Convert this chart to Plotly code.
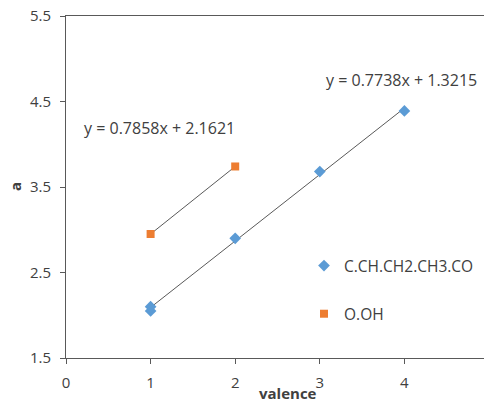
import numpy as np
import plotly.graph_objects as go

# data
blue_name = "C.CH.CH2.CH3.CO"
blue_x = [1, 1, 2, 3, 4]
blue_y = [2.05, 2.10, 2.90, 3.68, 4.39]
orange_name = "O.OH"
orange_x = [1, 2]
orange_y = [2.95, 3.74]
eq_blue = "y = 0.7738x + 1.3215"
eq_orange = "y = 0.7858x + 2.1621"
x_ticks = [0, 1, 2, 3, 4, 5]
y_ticks = [1.5, 2.5, 3.5, 4.5, 5.5]

FONT = "Open Sans, Liberation Sans, sans-serif"
TXT = "#404040"

# page has an 8px body margin: figure size and margins compensate for it
OFF = 8
W, H = 492 - OFF, 402 - OFF
L, R, T, B = 66 - OFF, 3, 16 - OFF, 44
pw, ph = W - L - R, H - T - B

def page_to_paper(px, py):
    return (px - OFF - L) / pw, (H - B - (py - OFF)) / ph

fig = go.Figure()

def trend(xs, ys):
    m, b = np.polyfit(xs, ys, 1)
    xx = np.array([min(xs), max(xs)], dtype=float)
    return xx, m * xx + b

for xs, ys in [(blue_x, blue_y), (orange_x, orange_y)]:
    tx, ty = trend(xs, ys)
    fig.add_trace(go.Scatter(x=tx, y=ty, mode="lines", line=dict(color="#595959", width=1),
                             showlegend=False, hoverinfo="skip"))

fig.add_trace(go.Scatter(x=blue_x, y=blue_y, mode="markers", name=blue_name, legendgroup="b",
                         marker=dict(symbol="diamond", color="#5B9BD5", size=9)))
fig.add_trace(go.Scatter(x=orange_x, y=orange_y, mode="markers", name=orange_name, legendgroup="o",
                         marker=dict(symbol="square", color="#ED7D31", size=8)))

fig.add_annotation(x=1.10, y=4.19, xref="x", yref="y", text=eq_orange, showarrow=False,
                   xanchor="center", yanchor="middle",
                   font=dict(family=FONT, size=16, color=TXT))
fig.add_annotation(x=3.96, y=4.755, xref="x", yref="y", text=eq_blue, showarrow=False,
                   xanchor="center", yanchor="middle",
                   font=dict(family=FONT, size=16, color=TXT))
# axis titles
vx, vy = page_to_paper(288, 393)
fig.add_annotation(x=vx, y=vy, xref="paper", yref="paper", text="<b>valence</b>", showarrow=False,
                   xanchor="center", yanchor="middle", font=dict(family=FONT, size=15, color=TXT))
ax_, ay_ = page_to_paper(15, 187)
fig.add_annotation(x=ax_, y=ay_, xref="paper", yref="paper", text="<b>a</b>", showarrow=False,
                   textangle=-90, xanchor="center", yanchor="middle",
                   font=dict(family=FONT, size=15, color=TXT))

lx, ly = page_to_paper(304, 249)

fig.update_layout(
    width=W, height=H,
    margin=dict(l=L, r=R, t=T, b=B, autoexpand=False),
    paper_bgcolor="white", plot_bgcolor="white",
    font=dict(family=FONT, size=15, color=TXT),
    legend=dict(x=lx, y=ly, xanchor="left", yanchor="top",
                bgcolor="rgba(0,0,0,0)", font=dict(size=15.5, color=TXT),
                itemsizing="trace", tracegroupgap=25),
    xaxis=dict(range=[0, 5], tickvals=x_ticks, showgrid=False, zeroline=False, automargin=False,
               showline=True, linecolor="#595959", linewidth=1, mirror=True,
               ticks="outside", ticklen=5, tickcolor="#595959", ticklabelstandoff=6,
               ticklabeloverflow="allow"),
    yaxis=dict(range=[1.5, 5.5], tickvals=y_ticks, ticktext=[str(v) for v in y_ticks],
               showgrid=False, zeroline=False, automargin=False,
               showline=True, linecolor="#595959", linewidth=1, mirror=True,
               ticks="outside", ticklen=5, tickcolor="#595959", ticklabelstandoff=6,
               ticklabeloverflow="allow"),
)

fig.write_html("out.html")
